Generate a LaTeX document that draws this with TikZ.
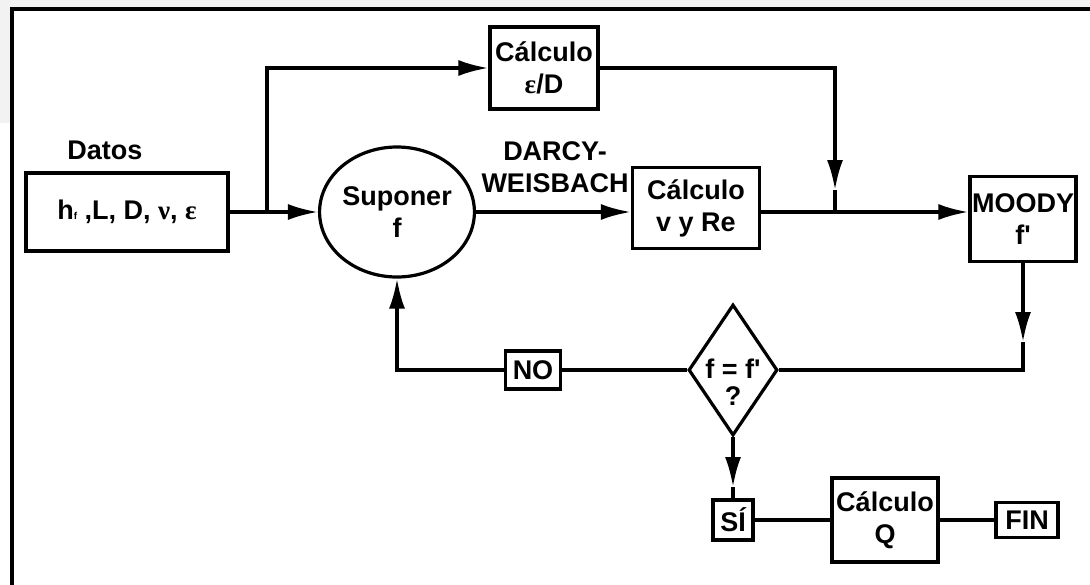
\documentclass[tikz,border=0pt]{standalone}
\usepackage{fontspec}
\setmainfont{Liberation Sans}
\newfontfamily\griega{Liberation Serif}
\usetikzlibrary{shapes.geometric, arrows.meta, positioning}

\begin{document}
\begin{tikzpicture}[x=1pt, y=-1pt, line width=3.2pt,
    every node/.style={font=\fontsize{27}{32}\selectfont\bfseries, align=center, inner sep=0pt},
    caja/.style={draw, rectangle},
    flecha/.style={-{Latex[length=30pt, width=16pt]}}]
    \useasboundingbox (0,0) rectangle (1090,584);
    \clip (0,0) rectangle (1090,584);
    \fill[black!5] (0,0) rectangle (1090,9);
    \fill[black!5] (0,0) rectangle (12,123);
    \draw (12,9) rectangle (1120,620);

    \node (titdatos) at (105,150) {Datos};
    \node[caja, minimum width=202pt, minimum height=78pt] (datos) at (127,212) {h{\fontsize{10}{10}\selectfont f} ,L, D, {\griega ν}, {\griega ε}};
    \node[ellipse, draw, minimum width=140pt, minimum height=130pt] (sup) at (397,212) {Suponer\\f};
    \node[caja, minimum width=108pt, minimum height=82pt] (calce) at (544,68) {Cálculo\\{\griega ε}/D};
    \node (darcy) at (555,167) {DARCY-\\WEISBACH};
    \node[caja, minimum width=127pt, minimum height=81pt] (calcv) at (696,208) {Cálculo\\v y Re};
    \node[caja, minimum width=106pt, minimum height=85pt] (moody) at (1023,219) {MOODY\\f\textquotesingle};
    \node[diamond, draw, minimum width=89pt, minimum height=131pt] (comp) at (733,370) {};
    \node (comptxt) at (733,382) {f = f\textquotesingle\\[-5pt]?};
    \node[caja, minimum width=55pt, minimum height=38pt] (no) at (533,370) {NO};
    \node[caja, minimum width=40pt, minimum height=40pt] (si) at (733,520) {SÍ};
    \node[caja, minimum width=106pt, minimum height=84pt] (calcq) at (885,520) {Cálculo\\Q};
    \node[caja, minimum width=62pt, minimum height=35pt] (fin) at (1027,520) {FIN};

    \coordinate (rama) at (267,212);
    \coordinate (bajae) at (835,190);
    \coordinate (unione) at (835,212);
    \coordinate (bajam) at (1023,342);
    \coordinate (bajac) at (733,487);

    \draw[flecha] (datos) -- (sup);
    \draw[flecha] (rama) |- (calce);
    \draw[flecha] (calce) -| (bajae);
    \draw (bajae) -- (unione);
    \draw[flecha] (sup) -- (sup -| calcv.west);
    \draw[flecha] (calcv.east |- sup) -- (moody.west |- sup);
    \draw[flecha] (moody) -- (bajam);
    \draw (bajam) |- (comp);
    \draw (comp) -- (no);
    \draw[flecha] (no) -| (sup);
    \draw[flecha] (comp) -- (bajac);
    \draw (bajac) -- (si);
    \draw (si) -- (calcq);
    \draw (calcq) -- (fin);
\end{tikzpicture}
\end{document}
